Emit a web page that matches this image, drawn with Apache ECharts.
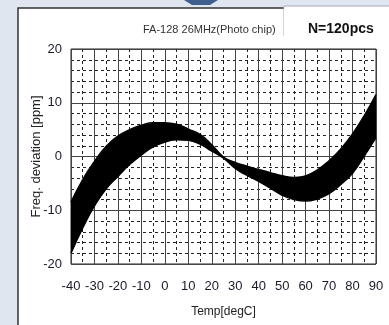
<!DOCTYPE html>
<html>
<head>
<meta charset="utf-8">
<script src="https://cdn.jsdelivr.net/npm/echarts@6/dist/echarts.min.js"></script>
<style>
  html, body { margin: 0; padding: 0; background: #dfe6ef; }
  #chart { width: 389px; height: 325px; }
</style>
</head>
<body>
<div id="chart"></div>
<script>
// temperature steps (degC)
const temps = [-40, -35, -30, -25, -20, -15, -10, -5, 0, 5, 10, 15, 20, 25,
  30, 35, 40, 45, 50, 55, 60, 65, 70, 75, 80, 85, 90];
// top edge of the 120-curve band (ppm)
const upperPpm = [-8.5, -4.3, -0.9, 1.9, 3.8, 5.0, 5.8, 6.3, 6.3, 6.0, 5.1, 4.1, 2.2, -0.1,
  -1.1, -1.8, -2.4, -3.0, -3.6, -3.9, -3.6, -2.5, -0.8, 1.4, 4.2, 7.6, 11.5];
// bottom edge of the band (ppm)
const lowerPpm = [-18.0, -13.3, -9.2, -6.0, -3.7, -1.5, 0.3, 1.8, 2.7, 3.1, 3.0, 2.3, 1.0, -0.3,
  -2.2, -3.5, -4.6, -5.9, -7.2, -8.0, -8.3, -7.9, -6.9, -5.2, -3.1, 0.1, 3.5];

const xTicks = { min: -40, max: 90, step: 10 };
const yTicks = { min: -20, max: 20, step: 10 };

const font = "'Liberation Sans Narrow', 'Arial Narrow', 'Liberation Sans', Arial, sans-serif";

const chart = echarts.init(document.getElementById("chart"));

// fill between the two edges, one polygon through the axis scales
function renderBand(params, api) {
  if (params.dataIndex !== 0) return;
  const top = temps.map((t, i) => api.coord([t, upperPpm[i]]));
  const bottom = temps.map((t, i) => api.coord([t, lowerPpm[i]])).reverse();
  return {
    type: "polygon",
    shape: { points: top.concat(bottom) },
    style: { fill: "#000" }
  };
}

chart.setOption({
  backgroundColor: "#dfe6ef",
  animation: false,
  graphic: [
    // white sheet
    { type: "rect", z: -10, shape: { x: 18, y: 8, width: 380, height: 330 },
      style: { fill: "#fff", stroke: "#333", lineWidth: 1.5 } },
    // label box on the right
    { type: "rect", z: -9, shape: { x: 284, y: 6, width: 110, height: 30 },
      style: { fill: "#fff", stroke: "#aab", lineWidth: 1 } },
    { type: "rect", z: -8, shape: { x: 284, y: 7, width: 110, height: 30 },
      style: { fill: "#fff" } },
    // arrow tip at the top
    { type: "polygon", z: -5, shape: { points: [[184, 0], [218, 0], [210, 5], [192, 5]] },
      style: { fill: "#3f5f8c" } }
  ],
  title: [
    { text: "FA-128 26MHz(Photo chip)", left: 138, top: 19,
      textStyle: { fontFamily: font, fontSize: 11, fontWeight: "normal", color: "#333" } },
    { text: "N=120pcs", left: 303, top: 17,
      textStyle: { fontFamily: font, fontSize: 14, fontWeight: "bold", color: "#111" } }
  ],
  grid: {
    left: 71, top: 49, width: 305, height: 215,
    show: true, backgroundColor: "#fff", borderColor: "#222", borderWidth: 1
  },
  xAxis: {
    type: "value",
    min: xTicks.min, max: xTicks.max, interval: xTicks.step,
    name: "Temp[degC]", nameLocation: "middle", nameGap: 42,
    nameTextStyle: { fontFamily: font, fontSize: 12, color: "#222" },
    axisLine: { show: false },
    axisTick: { show: false },
    axisLabel: { fontFamily: font, fontSize: 13, color: "#1a1a2a", margin: 16 },
    splitLine: { show: true, lineStyle: { color: "#444", width: 1 } },
    minorTick: { show: false, splitNumber: 2 },
    minorSplitLine: { show: true, lineStyle: { color: "#222", width: 1, type: [3, 3] } }
  },
  yAxis: {
    type: "value",
    min: yTicks.min, max: yTicks.max, interval: yTicks.step,
    name: "Freq. deviation [ppm]", nameLocation: "middle", nameGap: 28,
    nameMoveOverlap: false,
    nameTextStyle: { fontFamily: font, fontSize: 13, color: "#222" },
    axisLine: { show: false },
    axisTick: { show: false },
    axisLabel: { fontFamily: font, fontSize: 13, color: "#1a1a2a", margin: 9 },
    splitLine: { show: true, lineStyle: { color: "#444", width: 1 } },
    minorTick: { show: false, splitNumber: 5 },
    minorSplitLine: { show: true, lineStyle: { color: "#222", width: 1, type: [3, 3] } }
  },
  series: [
    {
      type: "custom",
      renderItem: renderBand,
      data: temps.map((t, i) => [t, upperPpm[i], lowerPpm[i]]),
      encode: { x: 0, y: [1, 2] },
      clip: true
    },
    {
      type: "line",
      data: temps.map((t, i) => [t, upperPpm[i]]),
      smooth: true, symbol: "none",
      lineStyle: { color: "#000", width: 1.5 }
    },
    {
      type: "line",
      data: temps.map((t, i) => [t, lowerPpm[i]]),
      smooth: true, symbol: "none",
      lineStyle: { color: "#000", width: 1.5 }
    }
  ]
});
</script>
</body>
</html>
